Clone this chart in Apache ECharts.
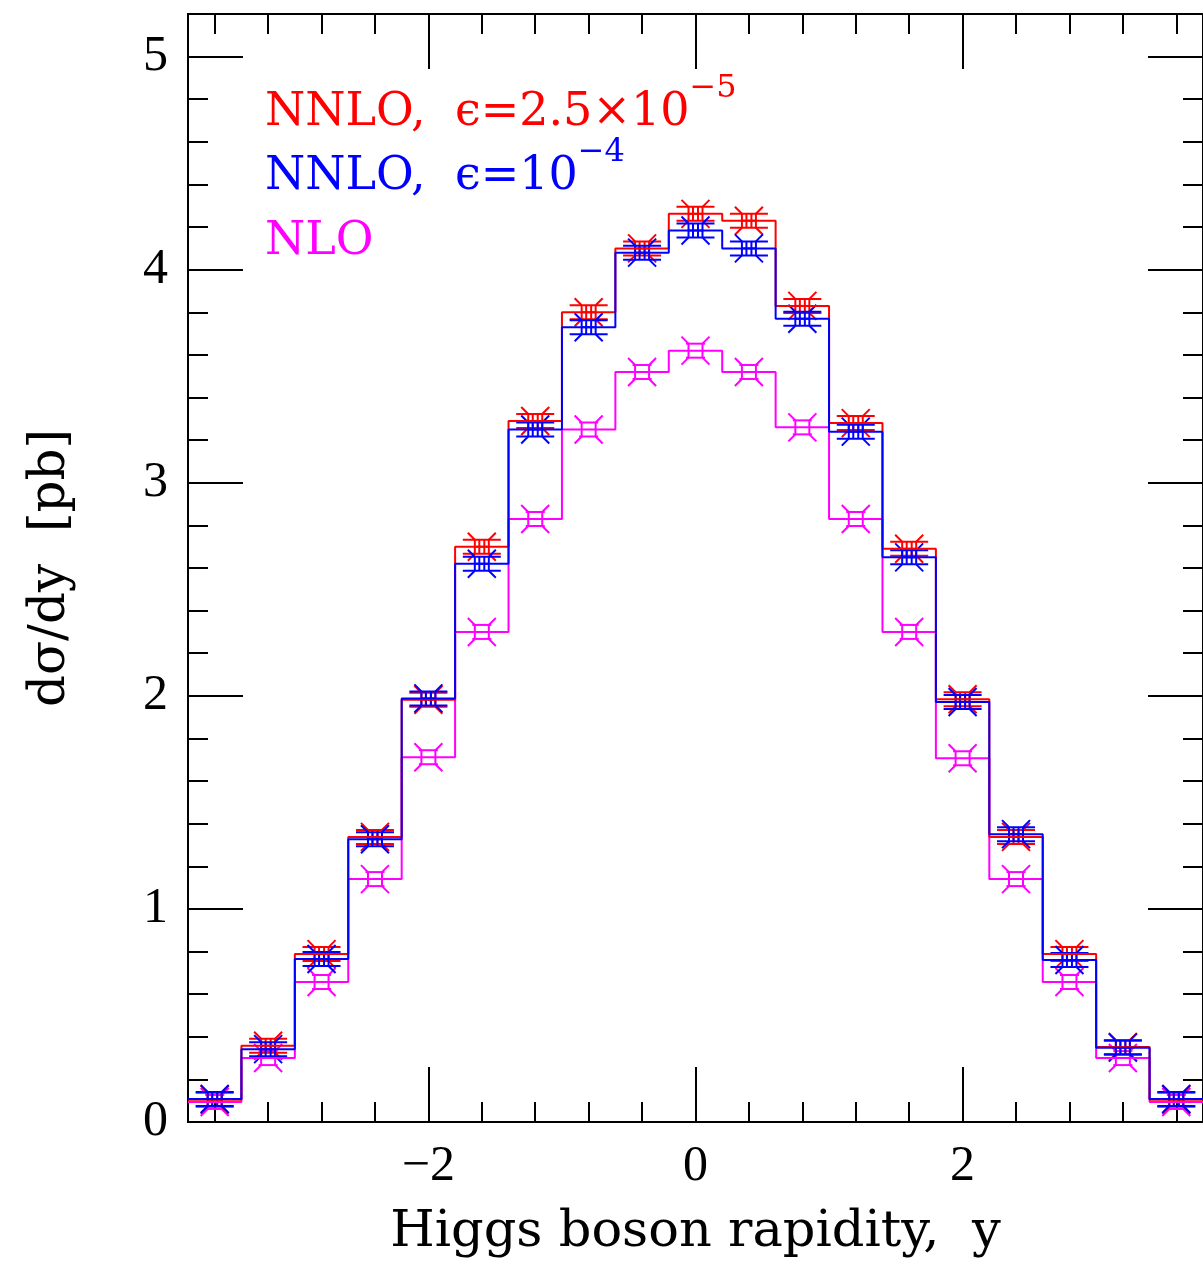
<!DOCTYPE html>
<html>
<head>
<meta charset="UTF-8">
<title>Higgs rapidity</title>
<script src="https://cdn.jsdelivr.net/npm/echarts@6/dist/echarts.min.js"></script>
<style>
  body { margin: 0; background: #fff; }
  #chart { width: 1203px; height: 1264px; }
</style>
</head>
<body>
<div id="chart"></div>
<script>
// bins of width 0.4 in rapidity
var binCenters = [-3.6, -3.2, -2.8, -2.4, -2.0, -1.6, -1.2, -0.8, -0.4, 0, 0.4, 0.8, 1.2, 1.6, 2.0, 2.4, 2.8, 3.2, 3.6];
var binWidth = 0.4;

var nnloEps25 = [0.105, 0.358, 0.788, 1.338, 1.982, 2.700, 3.290, 3.800, 4.100, 4.262, 4.230, 3.830, 3.280, 2.690, 1.984, 1.338, 0.788, 0.352, 0.105];
var nnloEps10 = [0.108, 0.342, 0.765, 1.327, 1.988, 2.620, 3.250, 3.730, 4.080, 4.184, 4.100, 3.770, 3.240, 2.650, 1.971, 1.351, 0.760, 0.349, 0.108];
var nlo       = [0.094, 0.300, 0.657, 1.140, 1.712, 2.300, 2.830, 3.250, 3.520, 3.620, 3.520, 3.260, 2.830, 2.300, 1.707, 1.140, 0.657, 0.300, 0.094];

var xMajorTicks = [-2, 0, 2];
var xMinorTicks = [-3.6, -3.2, -2.8, -2.4, -2.0, -1.6, -1.2, -0.8, -0.4, 0, 0.4, 0.8, 1.2, 1.6, 2.0, 2.4, 2.8, 3.2, 3.6];
var yMajorTicks = [0, 1, 2, 3, 4, 5];
var yMinorTicks = [0.2, 0.4, 0.6, 0.8, 1.2, 1.4, 1.6, 1.8, 2.2, 2.4, 2.6, 2.8, 3.2, 3.4, 3.6, 3.8, 4.2, 4.4, 4.6, 4.8];

var RED = '#ff0000', BLUE = '#0000ff', MAGENTA = '#ff00ff';
var serif = 'DejaVu Serif';

function stepPoints(vals) {
    var pts = [];
    for (var i = 0; i < binCenters.length; i++) {
        var lo = Math.round((binCenters[i] - binWidth / 2) * 100) / 100;
        var hi = Math.round((binCenters[i] + binWidth / 2) * 100) / 100;
        pts.push([lo, vals[i]], [hi, vals[i]]);
    }
    return pts;
}

function centerPoints(vals) {
    return binCenters.map(function (c, i) { return [c, vals[i]]; });
}

// box with diagonal arms, plus error-bar caps
function markerRenderer(color, capHalf, inner) {
    return function (params, api) {
        var p = api.coord([api.value(0), api.value(1)]);
        var cx = p[0], cy = p[1];
        function seg(x1, y1, x2, y2) {
            return { type: 'line', shape: { x1: cx + x1, y1: cy + y1, x2: cx + x2, y2: cy + y2 },
                     style: { stroke: color, lineWidth: 2, fill: null } };
        }
        var kids = [
            seg(-capHalf, -7, capHalf, -7), seg(-capHalf, 7, capHalf, 7),
            seg(-7, -7, -7, 7), seg(7, -7, 7, 7),
            seg(-7, -7, -14, -14), seg(7, -7, 14, -14),
            seg(-7, 7, -14, 14), seg(7, 7, 14, 14)
        ];
        if (inner) {
            kids.push(seg(-2.5, -7, -2.5, 7), seg(2.5, -7, 2.5, 7), seg(-7, 0, 7, 0));
        }
        return { type: 'group', children: kids };
    };
}

function fmt(v) {
    return v < 0 ? '\u2212' + (-v) : String(v);
}

function xAxisCfg(grid, pos, ticks, len, labels) {
    var a = {
        gridIndex: grid, type: 'value', position: pos, min: -3.8, max: 3.8,
        axisLine: { show: true, onZero: false, lineStyle: { color: '#000', width: 2 } },
        axisTick: { show: true, inside: true, length: len, customValues: ticks, lineStyle: { color: '#000', width: 2 } },
        axisLabel: { show: labels, customValues: ticks, formatter: fmt, margin: 20,
                     fontSize: 50, fontFamily: 'Liberation Serif', color: '#000' },
        splitLine: { show: false }
    };
    return a;
}

function yAxisCfg(grid, pos, ticks, len, labels) {
    return {
        gridIndex: grid, type: 'value', position: pos, min: 0, max: 5.2,
        axisLine: { show: true, onZero: false, lineStyle: { color: '#000', width: 2 } },
        axisTick: { show: true, inside: true, length: len, customValues: ticks, lineStyle: { color: '#000', width: 2 } },
        axisLabel: { show: labels, customValues: ticks, formatter: fmt, margin: 20,
                     fontSize: 50, fontFamily: 'Liberation Serif', color: '#000' },
        splitLine: { show: false }
    };
}

var xBottom = xAxisCfg(0, 'bottom', xMajorTicks, 55, true);
xBottom.name = 'Higgs boson rapidity,  y';
xBottom.nameLocation = 'middle';
xBottom.nameGap = 85;
xBottom.nameTextStyle = { fontSize: 51, fontFamily: serif, color: '#000' };

var yLeft = yAxisCfg(0, 'left', yMajorTicks, 55, true);
yLeft.name = 'd\u03c3/dy  [pb]';
yLeft.nameLocation = 'middle';
yLeft.nameGap = 112;
yLeft.nameTextStyle = { fontSize: 50, fontFamily: serif, color: '#000' };

function legendText(y, main, sup, color) {
    var txt = '{m|' + main + '}' + (sup ? '{s|' + sup + '}' : '');
    return {
        type: 'text', x: 265, y: y,
        style: {
            text: txt, align: 'left', verticalAlign: 'top',
            rich: {
                m: { fontSize: 46, fontFamily: serif, fill: color, lineHeight: 80 },
                s: { fontSize: 32, fontFamily: serif, fill: color, lineHeight: 38, verticalAlign: 'top' }
            }
        }
    };
}

var chart = echarts.init(document.getElementById('chart'));
chart.setOption({
    animation: false,
    backgroundColor: '#fff',
    grid: [
        { left: 188, top: 14, width: 1017, height: 1108, show: false },
        { left: 188, top: 14, width: 1017, height: 1108, show: false }
    ],
    xAxis: [
        xBottom,
        xAxisCfg(0, 'top', xMajorTicks, 55, false),
        xAxisCfg(1, 'bottom', xMinorTicks, 20, false),
        xAxisCfg(1, 'top', xMinorTicks, 20, false)
    ],
    yAxis: [
        yLeft,
        yAxisCfg(0, 'right', yMajorTicks, 55, false),
        yAxisCfg(1, 'left', yMinorTicks, 20, false),
        yAxisCfg(1, 'right', yMinorTicks, 20, false)
    ],
    graphic: [
        legendText(73, 'NNLO,  \u03f5=2.5\u00d710', '\u22125', RED),
        legendText(137, 'NNLO,  \u03f5=10', '\u22124', BLUE),
        legendText(202, 'NLO', null, MAGENTA)
    ],
    series: [
        { type: 'line', data: stepPoints(nlo), showSymbol: false, lineStyle: { color: MAGENTA, width: 2 }, itemStyle: { color: MAGENTA } },
        { type: 'custom', data: centerPoints(nlo), renderItem: markerRenderer(MAGENTA, 9.5, false) },
        { type: 'line', data: stepPoints(nnloEps25), showSymbol: false, lineStyle: { color: RED, width: 2 }, itemStyle: { color: RED } },
        { type: 'custom', data: centerPoints(nnloEps25), renderItem: markerRenderer(RED, 19, true) },
        { type: 'line', data: stepPoints(nnloEps10), showSymbol: false, lineStyle: { color: BLUE, width: 2 }, itemStyle: { color: BLUE } },
        { type: 'custom', data: centerPoints(nnloEps10), renderItem: markerRenderer(BLUE, 19, true) }
    ]
});
</script>
</body>
</html>
